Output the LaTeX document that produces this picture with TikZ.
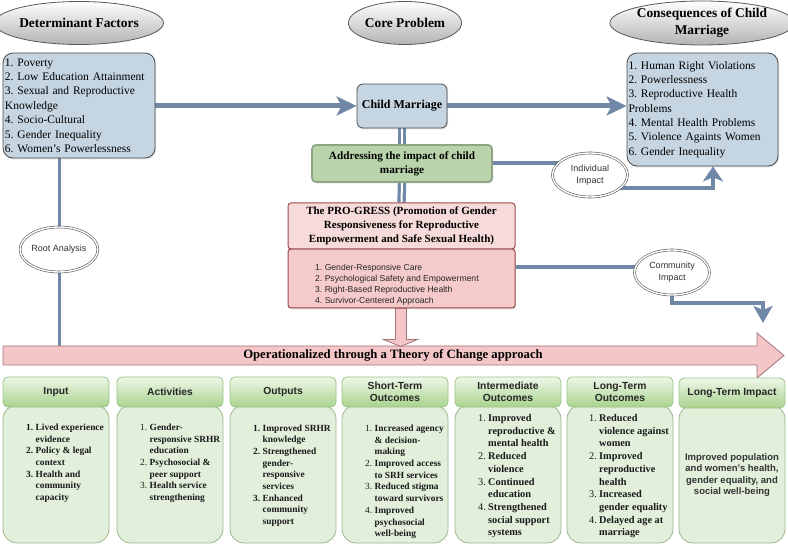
\documentclass[tikz,border=0pt]{standalone}
\usepackage{fontspec}
\setmainfont{Liberation Serif}
\setsansfont{Liberation Sans}
\usetikzlibrary{shapes.geometric,arrows.meta,shadows,calc}
\definecolor{boxblue}{HTML}{C5D5E1}
\definecolor{connc}{HTML}{7087A8}
\definecolor{addrfill}{HTML}{B9D4AB}
\definecolor{addrdraw}{HTML}{8DA585}
\definecolor{protitlec}{HTML}{F7DADA}
\definecolor{probodyc}{HTML}{F5CACA}
\definecolor{prodraw}{HTML}{9B4A4A}
\definecolor{banfill}{HTML}{F5C6C8}
\definecolor{bandraw}{HTML}{A07577}
\definecolor{hdrtop}{HTML}{EEF7E8}
\definecolor{hdrbot}{HTML}{A9D38E}
\definecolor{hdrdraw}{HTML}{9CC38A}
\definecolor{bodyfill}{HTML}{E2EFDA}
\definecolor{bodydraw}{HTML}{9DB890}
\pgfdeclarelayer{bg}
\pgfsetlayers{bg,main}
\tikzset{
  ell/.style={ellipse, draw=black!65, line width=0.8pt, top color=white, bottom color=black!30,
    inner sep=0pt, align=center, font=\bfseries\fontsize{13.4}{17}\selectfont},
  dell/.style={ellipse, draw=black!65, double=white, double distance=1.4pt, line width=0.6pt,
    fill=white, inner sep=0pt, align=center, text=black!80,
    font=\sffamily\fontsize{9}{12}\selectfont, minimum width=75pt, minimum height=44pt},
  bluebox/.style={draw=black!70, line width=0.8pt, fill=boxblue, rounded corners=10pt,
    drop shadow={opacity=0.25,shadow xshift=1pt,shadow yshift=-1.5pt}},
  conn/.style={draw=connc, line width=4pt},
  dbl/.style={draw=connc, line width=3.2pt, double=white, double distance=2pt},
  hdr/.style={draw=hdrdraw, line width=0.8pt, top color=hdrtop, bottom color=hdrbot,
    rounded corners=5pt, minimum width=106pt, minimum height=30pt, inner sep=0pt,
    align=center, font=\sffamily\bfseries\fontsize{10.3}{12.3}\selectfont, text=black!85},
  bodybox/.style={draw=bodydraw, line width=0.8pt, fill=bodyfill, rounded corners=14pt,
    minimum width=106pt, minimum height=138pt, inner sep=0pt},
  lt/.style={anchor=base west, inner sep=0pt, font=\bfseries\fontsize{9.4}{11.7}\selectfont, text=black!90},
  ltb/.style={anchor=base west, inner sep=0pt, font=\bfseries\fontsize{10.3}{12.7}\selectfont, text=black!90},
  pinkshape/.style={draw=bandraw, fill=banfill, line width=0.8pt}
}
\begin{document}
\frenchspacing
\begin{tikzpicture}[x=1pt,y=-1pt]
\useasboundingbox (0,0) rectangle (788,548);

% ---- top titles
\node[ell, minimum width=152pt, minimum height=43pt] (detell) at (79,23) {Determinant Factors};
\node[ell, minimum width=100pt, minimum height=43pt] (coreell) at (405,23) {Core Problem};
\node[ell, minimum width=150pt, minimum height=44pt] (consell) at (702,23) {Consequences of Child\\Marriage};

% ---- boxes
\node[bluebox, minimum width=152pt, minimum height=105pt, text width=148pt, inner xsep=2pt,
  align=left, font=\fontsize{11.5}{14.4}\selectfont] (det) at (79,105.5)
  {1. Poverty\\2. Low Education Attainment\\3. Sexual and Reproductive\\Knowledge\\4. Socio-Cultural\\5. Gender Inequality\\6. Women's Powerlessness};
\node[bluebox, minimum width=90pt, minimum height=44pt, rounded corners=6pt,
  font=\bfseries\fontsize{12}{14}\selectfont] (child) at (402,106) {Child Marriage};
\node[bluebox, minimum width=151pt, minimum height=113pt, text width=148pt, inner xsep=1.5pt,
  align=left, font=\fontsize{11.5}{14.3}\selectfont] (cons) at (702.5,109.5)
  {1. Human Right Violations\\2. Powerlessness\\3. Reproductive Health\\Problems\\4. Mental Health Problems\\5. Violence Againts Women\\6. Gender Inequality};
\node[draw=addrdraw, line width=1.8pt, fill=addrfill, rounded corners=4pt, minimum width=180pt,
  minimum height=37pt, align=center, font=\bfseries\fontsize{11.2}{13.6}\selectfont,
  drop shadow={opacity=0.25,shadow xshift=1pt,shadow yshift=-1.5pt}] (addr) at (402,163.5)
  {Addressing the impact of child\\marriage};
\node[draw=prodraw, line width=1pt, fill=probodyc, rounded corners=3pt, minimum width=227pt,
  minimum height=59pt, drop shadow={opacity=0.25,shadow xshift=1pt,shadow yshift=-1.5pt}] (probody) at (401.5,278.5) {};
\node[draw=prodraw, line width=1pt, fill=protitlec, rounded corners=3pt, minimum width=227pt,
  minimum height=46pt, align=center, font=\bfseries\fontsize{11}{13.8}\selectfont] (protitle) at (401.5,226)
  {The PRO-GRESS (Promotion of Gender\\Responsiveness for Reproductive\\Empowerment and Safe Sexual Health)};
\node[anchor=west, align=left, inner sep=0pt, font=\sffamily\fontsize{8.6}{11}\selectfont, text=black!85] (plist) at (315,284.5)
  {1. Gender-Responsive Care\\2. Psychological Safety and Empowerment\\3. Right-Based Reproductive Health\\4. Survivor-Centered Approach};

% ---- impact ellipses
\node[dell] (indiv) at (590,175) {Individual\\Impact};
\node[dell, minimum height=45pt] (comm) at (672,272.5) {Community\\Impact};
\node[dell, minimum width=76pt, minimum height=45pt] (root) at (59,249.5) {Root Analysis};

% ---- banner
\path[pinkshape] (3,346) -- (757,346) -- (757,333) -- (784,355.5) -- (757,378) -- (757,365) -- (3,365) -- cycle;
\node[inner sep=0pt, minimum width=754pt, minimum height=19pt, font=\bfseries\fontsize{12.7}{14}\selectfont] (banner) at (393,355.5)
  {Operationalized through a Theory of Change approach};
\path[pinkshape] ($(probody.south)+(-6,0)$) -- ($(probody.south)+(5,0)$) -- ($(probody.south)+(5,31)$)
  -- ($(probody.south)+(16,31)$) -- ($(probody.south)+(-1,38)$) -- ($(probody.south)+(-18,31)$)
  -- ($(probody.south)+(-6,31)$) -- cycle;

% ---- bottom columns
\foreach \L/\n in {3/1,117/2,230/3,342/4,455/5,567/6,679/7} {
  \node[bodybox] (b\n) at (\L+53,474) {};
}
\node[hdr] (h1) at (56,392) {Input};
\node[hdr] (h2) at (170,392) {Activities};
\node[hdr] (h3) at (283,392) {Outputs};
\node[hdr] (h4) at (395,392) {Short-Term\\Outcomes};
\node[hdr] (h5) at (508,392) {Intermediate\\Outcomes};
\node[hdr] (h6) at (620,392) {Long-Term\\Outcomes};
\node[hdr] (h7) at (732,393) {Long-Term Impact};

\node[lt] (t1) at (26,430.5) {\begin{tabular}[t]{@{}p{9.5pt}@{}l@{}}1.&Lived experience\\&evidence\\2.&Policy \& legal\\&context\\3.&Health and\\&community\\&capacity\end{tabular}};
\node[lt] (t2) at (140,430.5) {\begin{tabular}[t]{@{}p{9.5pt}@{}l@{}}{\mdseries 1.}&Gender-\\&responsive SRHR\\&education\\{\mdseries 2.}&Psychosocial \&\\&peer support\\{\mdseries 3.}&Health service\\&strengthening\end{tabular}};
\node[lt] (t3) at (253,431) {\begin{tabular}[t]{@{}p{9.5pt}@{}l@{}}1.&Improved SRHR\\&knowledge\\2.&Strengthened\\&gender-\\&responsive\\&services\\3.&Enhanced\\&community\\&support\end{tabular}};
\node[lt] (t4) at (365,431.5) {\begin{tabular}[t]{@{}p{9.5pt}@{}l@{}}{\mdseries 1.}&Increased agency\\&\& decision-\\&making\\{\mdseries 2.}&Improved access\\&to SRH services\\{\mdseries 3.}&Reduced stigma\\&toward survivors\\{\mdseries 4.}&Improved\\&psychosocial\\&well-being\end{tabular}};
\node[ltb] (t5) at (478,421.5) {\begin{tabular}[t]{@{}p{10pt}@{}l@{}}{\mdseries 1.}&Improved\\&reproductive \&\\&mental health\\{\mdseries 2.}&Reduced\\&violence\\{\mdseries 3.}&Continued\\&education\\{\mdseries 4.}&Strengthened\\&social support\\&systems\end{tabular}};
\node[ltb] (t6) at (589,421.5) {\begin{tabular}[t]{@{}p{10pt}@{}l@{}}{\mdseries 1.}&Reduced\\&violence against\\&women\\{\mdseries 2.}&Improved\\&reproductive\\&health\\{\mdseries 3.}&Increased\\&gender equality\\{\mdseries 4.}&Delayed age at\\&marriage\end{tabular}};
\node[font=\sffamily\bfseries\fontsize{9.5}{11.6}\selectfont, align=center, text=black!80] (t7) at (732,475)
  {Improved population\\and women's health,\\gender equality, and\\social well-being};

% ---- connectors
\begin{pgfonlayer}{bg}
\draw[conn, line width=5pt, -{Stealth[length=20pt,width=19pt,inset=5pt]}] (det.east |- child.west) -- (child.west);
\draw[conn, line width=5pt, -{Stealth[length=20pt,width=19pt,inset=5pt]}] (child.east) -- (child.east -| cons.west);
\draw[dbl] (child.south) -- (addr.north);
\draw[dbl] (addr.south) -- (protitle.north);
\draw[conn] (addr.east) -- (addr.east -| indiv.center);
\coordinate (ib) at (713,188);
\draw[conn, -{Stealth[length=15pt,width=20pt,inset=4pt]}] (ib -| indiv.center) -- (ib) -- (ib |- cons.south);
\coordinate (cy) at (0,267);
\draw[conn] (probody.east |- cy) -- (comm.center |- cy);
\coordinate (cb) at (763,303);
\coordinate (ct) at (763,323);
\draw[conn, -{Stealth[length=17pt,width=19pt,inset=4pt]}] (comm.center) -- (comm.center |- cb) -- (cb) -- (ct);
\draw[conn, line width=3pt] (det.south -| root.center) -- (root.center |- banner.north);
\end{pgfonlayer}
\end{tikzpicture}
\end{document}
